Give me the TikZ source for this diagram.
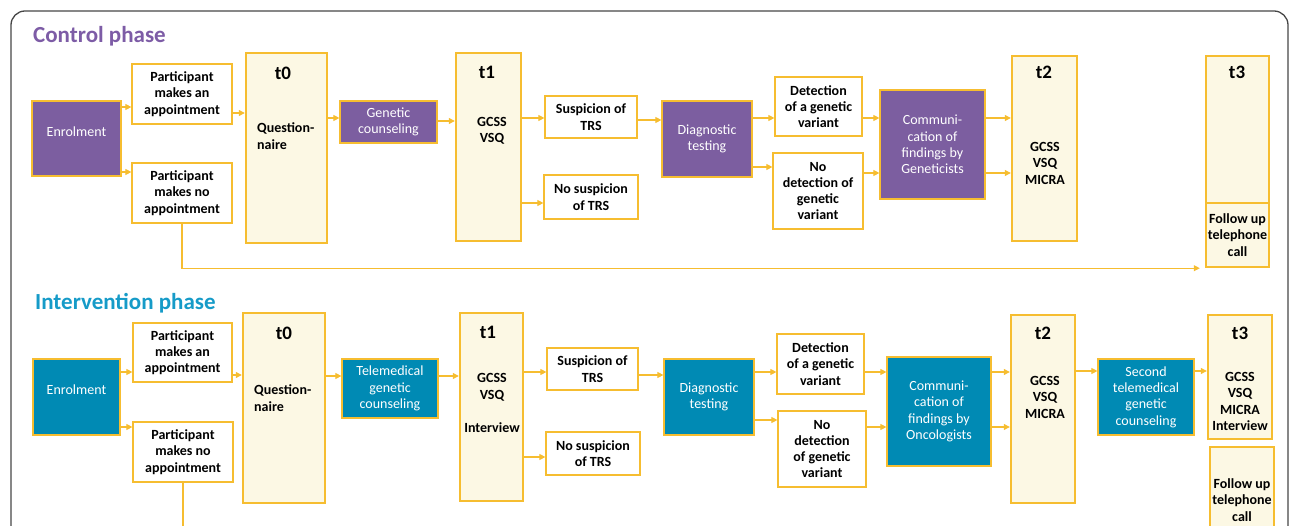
\documentclass[tikz,border=0pt]{standalone}
\usepackage{fontspec}
\setmainfont{Carlito}
\usetikzlibrary{arrows.meta}

\definecolor{ctrlpurple}{RGB}{124,94,160}
\definecolor{ctrltitle}{RGB}{125,92,166}
\definecolor{intblue}{RGB}{0,138,180}
\definecolor{inttitle}{RGB}{22,155,200}
\definecolor{ambr}{RGB}{246,189,48}
\definecolor{cream}{RGB}{252,248,228}
\definecolor{framegray}{RGB}{70,70,70}

\tikzset{
  box/.style 2 args={rectangle, draw=ambr, line width=1.2pt, fill=white,
    minimum width=#1pt, minimum height=#2pt, inner sep=0pt, align=center,
    font=\fontsize{14}{16.3}\selectfont\bfseries},
  pbox/.style 2 args={box={#1}{#2}, fill=ctrlpurple, text=white,
    font=\fontsize{14}{16.3}\selectfont},
  bbox/.style 2 args={box={#1}{#2}, fill=intblue, text=white,
    font=\fontsize{14}{16.3}\selectfont},
  tbox/.style 2 args={box={#1}{#2}, line width=2.4pt, fill=cream},
  tlab/.style={font=\fontsize{19}{22}\selectfont\bfseries},
  tinfo/.style={align=center, inner sep=0pt, font=\fontsize{14}{16.5}\selectfont\bfseries},
  phase/.style={anchor=base west, inner sep=0pt, font=\fontsize{23}{26}\selectfont\bfseries},
  link/.style={draw=ambr, line width=1.1pt},
  arr/.style={link, -{Triangle[length=6pt,width=6pt]}},
}

\begin{document}
\begin{tikzpicture}[x=1pt, y=-1pt]
\useasboundingbox (0,0) rectangle (1290,526);
\clip (0,0) rectangle (1290,526);

% frame
\draw[framegray, line width=1.3pt, rounded corners=14pt]
  (11,560) -- (11,11) -- (1288,11) -- (1288,560);

% ---- control phase
\node[phase, text=ctrltitle] (cTitle) at (33,43) {Control phase};

\node[pbox={89}{75}, text depth=14pt] (cEnr) at (76.5,138.5) {Enrolment};
\node[box={100}{60}] (cPa) at (182,94) {Participant\\makes an\\appointment};
\node[box={100}{60}] (cPno) at (182,193) {Participant\\makes no\\appointment};
\node[tbox={81}{190}] (cT0) at (286.5,148) {};
\node[pbox={97}{42}] (cGc) at (388.5,122) {Genetic\\counseling};
\node[tbox={65}{188}] (cT1) at (488.5,147) {};
\node[box={92}{42}] (cSusp) at (591,117) {Suspicion of\\TRS};
\node[box={94}{44}] (cNoSusp) at (591,197) {No suspicion\\of TRS};
\node[pbox={90}{76}] (cDiag) at (707,139) {Diagnostic\\testing};
\node[box={87}{59}] (cDet) at (818.5,106.5) {Detection\\of a genetic\\variant};
\node[box={90}{76}] (cNoDet) at (818,191) {No\\detection of\\genetic\\variant};
\node[pbox={105}{109}] (cComm) at (932.5,144.5) {Communi-\\cation of\\findings by\\Geneticists};
\node[tbox={65}{185}] (cT2) at (1044.5,148.5) {};
\node[tbox={63}{147}] (cT3) at (1237.5,129.5) {};
\node[tbox={63}{64}] (cFol) at (1237.5,235) {Follow up\\telephone\\call};

\node[tlab] at (283,73) {t0};
\node[tinfo, align=left, anchor=west] at (257,136) {Question-\\naire};
\node[tlab] at (487,72) {t1};
\node[tinfo] at (492,131) {GCSS\\VSQ};
\node[tlab] at (1044,72) {t2};
\node[tinfo] at (1045,163) {GCSS\\VSQ\\MICRA};
\node[tlab] at (1237,72) {t3};

\foreach \a/\b/\y in {cEnr/cPa/107, cEnr/cPno/172, cPa/cT0/113, cT0/cGc/118,
    cGc/cT1/121, cT1/cSusp/118, cT1/cNoSusp/203, cSusp/cDiag/120,
    cDiag/cDet/118, cDiag/cNoDet/167, cDet/cComm/118, cNoDet/cComm/173,
    cComm/cT2/118, cComm/cT2/173}
  \draw[arr] (\a.east |- 0,\y) -- (\b.west |- 0,\y);
\draw[arr, shorten >=5pt] (cPno.south) |- (cFol.south west);

% ---- intervention phase
\node[phase, text=inttitle] (iTitle) at (35,310) {Intervention phase};

\node[bbox={87}{76}, text depth=14pt] (iEnr) at (76.5,397) {Enrolment};
\node[box={99}{59}] (iPa) at (182.5,352.5) {Participant\\makes an\\appointment};
\node[box={100}{60}] (iPno) at (183,452) {Participant\\makes no\\appointment};
\node[tbox={82}{190}] (iT0) at (284,408) {};
\node[bbox={96}{59}] (iTele) at (390,388.5) {Telemedical\\genetic\\counseling};
\node[tbox={63}{188}] (iT1) at (491.5,407) {};
\node[box={91}{42}] (iSusp) at (592.5,369) {Suspicion of\\TRS};
\node[box={94}{43}] (iNoSusp) at (593,453.5) {No suspicion\\of TRS};
\node[bbox={90}{76}] (iDiag) at (709,397) {Diagnostic\\testing};
\node[box={87}{60}] (iDet) at (820.5,364) {Detection\\of a genetic\\variant};
\node[box={88}{76}] (iNoDet) at (822,449) {No\\detection\\of genetic\\variant};
\node[bbox={104}{109}] (iComm) at (939,411.5) {Communi-\\cation of\\findings by\\Oncologists};
\node[tbox={64}{188}] (iT2) at (1043,409) {};
\node[bbox={96}{76}] (iSec) at (1146,397) {Second\\telemedical\\genetic\\counseling};
\node[tbox={64}{124}] (iT3) at (1240,377) {};
\node[tbox={64}{106}] (iFol) at (1242,500) {Follow up\\telephone\\call};

\node[tlab] at (284,333) {t0};
\node[tinfo, align=left, anchor=west] at (254,398) {Question-\\naire};
\node[tlab] at (488,332) {t1};
\node[tinfo] at (492,403) {GCSS\\VSQ\\[16.5pt]Interview};
\node[tlab] at (1043,333) {t2};
\node[tinfo] at (1045,397) {GCSS\\VSQ\\MICRA};
\node[tlab] at (1240,333) {t3};
\node[tinfo] at (1240,401.5) {GCSS\\VSQ\\MICRA\\Interview};

\foreach \a/\b/\y in {iEnr/iPa/372, iEnr/iPno/427, iPa/iT0/375, iT0/iTele/376,
    iTele/iT1/376, iT1/iSusp/372, iT1/iNoSusp/457, iSusp/iDiag/375,
    iDiag/iDet/372, iDiag/iNoDet/420, iDet/iComm/372, iNoDet/iComm/427,
    iComm/iT2/372, iComm/iT2/427, iT2/iSec/371, iSec/iT3/371}
  \draw[arr] (\a.east |- 0,\y) -- (\b.west |- 0,\y);
\coordinate (iOut) at (183,545);
\draw[link] (iPno.south) -- (iOut);
\end{tikzpicture}
\end{document}
